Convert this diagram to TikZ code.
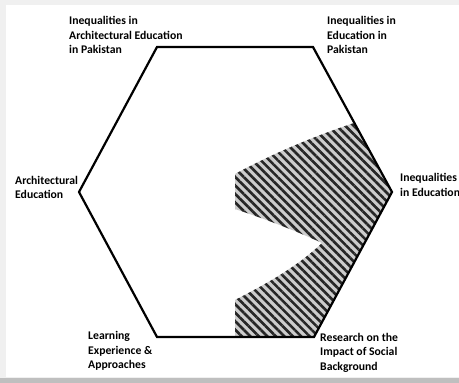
\documentclass[tikz,border=0pt]{standalone}
\usepackage{fontspec}
\setmainfont{Carlito}
\usetikzlibrary{patterns.meta}

\begin{document}
\begin{tikzpicture}[
  x=1pt, y=-1pt,
  lbl/.style     = {anchor=base west, align=left, inner sep=0pt, font=\fontsize{11.7}{14.3}\selectfont\bfseries},
  hexline/.style = {line width=2.2pt, line join=miter, black},
  hatch/.style   = {fill=gray!40, postaction={pattern={Lines[angle=-45, distance=6pt, line width=2.6pt]}, pattern color=black!85}},
]
  \useasboundingbox (0,0) rectangle (459,383);
  \fill[gray!12] (0,0) rectangle (459,383);
  \fill[white]   (6,5) rectangle (459,377);
  \fill[gray!50] (0,378) rectangle (459,383);

  % hexagon corners
  \coordinate (tl) at (157,47);
  \coordinate (tr) at (313,47);
  \coordinate (r)  at (392,192);
  \coordinate (br) at (314,337);
  \coordinate (bl) at (157,337);
  \coordinate (l)  at (79,192);

  % shaded area
  \path[hatch] (235,174) .. controls (272,154) and (312,137) .. (354,123)
        -- (r) -- (br) -- (235,337) -- (235,300)
        .. controls (266,284) and (297,267) .. (322,243)
        .. controls (292,229) and (262,218) .. (235,209) -- cycle;

  \draw[hexline] (tl) -- (tr) -- (r) -- (br) -- (bl) -- (l) -- cycle;

  \node[lbl] (iaep) at (69,53.3)  {Inequalities in\\Architectural Education\\in Pakistan};
  \node[lbl] (iep)  at (327,53.3) {Inequalities in\\Education in\\Pakistan};
  \node[lbl] (ae)   at (15,198.5) {Architectural\\Education};
  \node[lbl] (ie)   at (400,196)  {Inequalities\\in Education};
  \node[lbl] (ris)  at (320,370)  {Research on the\\Impact of Social\\Background};
  \node[lbl] (lea)  at (88,368.3) {Learning\\Experience \&\\Approaches};
\end{tikzpicture}
\end{document}
